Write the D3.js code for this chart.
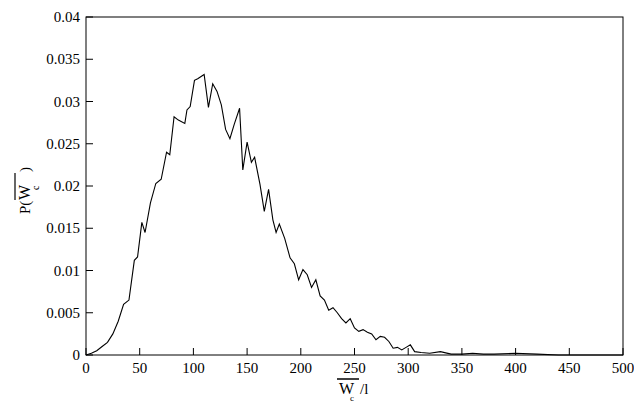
<!DOCTYPE html>
<html><head><meta charset="utf-8">
<script src="https://cdn.jsdelivr.net/npm/d3@7"></script>
<style>body{margin:0;background:#fff}text{font-family:"Liberation Serif",serif}</style>
</head><body><svg id="c" width="634" height="403"></svg>
<script>
const xs = [0,5,10,15,20,25,30,35,40,45,48,52,55,60,65,70,75,78,82,86,92,94,97,101,104,110,114,118,122,126,130,134,138,143,146,150,154,157,162,166,170,174,177,180,185,190,194,198,202,206,210,214,218,222,226,230,234,238,242,246,250,254,258,262,266,270,274,278,282,286,290,294,298,302,306,312,320,330,340,350,360,370,380,400,420,440,460,480,500];
const ps = [0,0.0002,0.0005,0.001,0.0015,0.0025,0.004,0.006,0.0065,0.0112,0.0116,0.0157,0.0145,0.018,0.0203,0.0208,0.024,0.0237,0.0282,0.0278,0.0274,0.029,0.0294,0.0325,0.0327,0.0332,0.0293,0.0321,0.0312,0.0296,0.0267,0.0256,0.0273,0.0292,0.0219,0.0252,0.0228,0.0234,0.0202,0.017,0.0196,0.016,0.0145,0.0155,0.0138,0.0115,0.0108,0.0089,0.0101,0.0095,0.008,0.0089,0.007,0.0065,0.0053,0.0056,0.005,0.0043,0.0038,0.0043,0.0032,0.0028,0.003,0.0027,0.0025,0.0018,0.0022,0.0021,0.0016,0.0008,0.0009,0.0006,0.0009,0.0012,0.0004,0.0003,0.0002,0.0004,0.0001,0.0001,0.0002,0.0001,0.0001,0.0002,0.0001,0,0,0,0];
const xTicks = d3.range(0, 501, 50);
const yTicks = [0,0.005,0.01,0.015,0.02,0.025,0.03,0.035,0.04];

const svg = d3.select("#c");
const x = d3.scaleLinear().domain([0,500]).range([86,623]);
const y = d3.scaleLinear().domain([0,0.04]).range([355,17]);

svg.append("rect").attr("x",86).attr("y",17).attr("width",537).attr("height",338)
  .attr("fill","none").attr("stroke","#000");

// ticks inward
svg.selectAll(".xt").data(xTicks).enter().append("line")
  .attr("x1",d=>x(d)).attr("x2",d=>x(d)).attr("y1",355).attr("y2",348).attr("stroke","#000");
svg.selectAll(".xl").data(xTicks).enter().append("text")
  .attr("x",d=>x(d)).attr("y",373).attr("text-anchor","middle").attr("font-size",15).text(d=>d);
svg.selectAll(".yt").data(yTicks).enter().append("line")
  .attr("x1",86).attr("x2",93).attr("y1",d=>y(d)).attr("y2",d=>y(d)).attr("stroke","#000");
svg.selectAll(".yl").data(yTicks).enter().append("text")
  .attr("x",80).attr("y",d=>y(d)+5).attr("text-anchor","end").attr("font-size",15).text(d=>d);

svg.append("path").datum(xs.map((v,i)=>[v,ps[i]]))
  .attr("d", d3.line().x(d=>x(d[0])).y(d=>y(d[1])))
  .attr("fill","none").attr("stroke","#000").attr("stroke-width",1.1);

// x label
const xl = svg.append("g");
xl.append("line").attr("x1",337).attr("x2",359).attr("y1",379).attr("y2",379).attr("stroke","#000").attr("stroke-width",1.5);
xl.append("text").attr("x",339).attr("y",394).attr("font-size",16).text("W");
xl.append("text").attr("x",360).attr("y",394).attr("font-size",15).text("/l");
xl.append("text").attr("x",350).attr("y",401).attr("font-size",9).text("c");

// y label
const yl = svg.append("g").attr("transform","translate(30,186) rotate(-90)");
yl.append("text").attr("x",-28).attr("y",0).attr("font-size",15).text("P(");
yl.append("text").attr("x",-14).attr("y",0).attr("font-size",16).text("W");
yl.append("text").attr("x",-4).attr("y",9).attr("font-size",10).text("c");
yl.append("text").attr("x",14).attr("y",0).attr("font-size",15).text(")");
yl.append("line").attr("x1",-14).attr("x2",13).attr("y1",-15).attr("y2",-15).attr("stroke","#000").attr("stroke-width",1.2);
</script></body></html>
